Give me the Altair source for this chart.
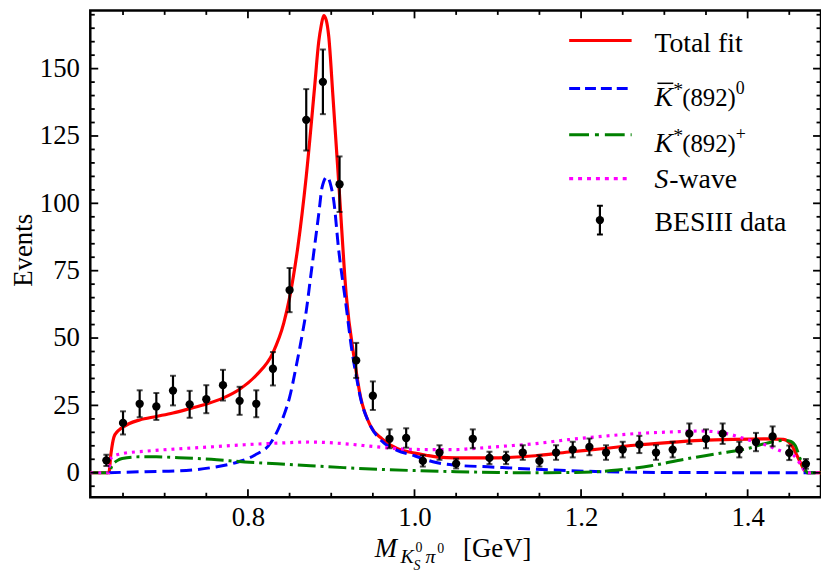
import altair as alt
import pandas as pd

# ---------------- data ----------------
bin_centers = [0.63, 0.65, 0.67, 0.69, 0.71, 0.73, 0.75, 0.77, 0.79, 0.81, 0.83, 0.85,
               0.87, 0.89, 0.91, 0.93, 0.95, 0.97, 0.99, 1.01, 1.03, 1.05, 1.07, 1.09,
               1.11, 1.13, 1.15, 1.17, 1.19, 1.21, 1.23, 1.25, 1.27, 1.29, 1.31, 1.33,
               1.35, 1.37, 1.39, 1.41, 1.43, 1.45, 1.47]
events = [4.6, 18.5, 25.6, 24.6, 30.5, 25.4, 27.3, 32.5, 26.7, 25.6, 38.6, 67.8,
          131.0, 145.1, 107.1, 41.7, 28.6, 12.6, 12.9, 4.4, 7.5, 3.4, 12.6, 5.5,
          5.5, 7.5, 4.4, 7.5, 8.6, 9.6, 7.5, 8.6, 10.5, 7.5, 8.6, 14.5,
          12.6, 14.5, 8.6, 11.4, 13.5, 7.4, 3.3]
errors = [2.1, 4.3, 5.0, 5.0, 5.5, 5.0, 5.2, 5.7, 5.2, 5.0, 6.2, 8.2,
          11.4, 12.0, 10.3, 6.5, 5.3, 3.5, 3.6, 2.1, 2.7, 1.8, 3.5, 2.3,
          2.3, 2.7, 2.1, 2.7, 2.9, 3.1, 2.7, 2.9, 3.2, 2.7, 2.9, 3.8,
          3.5, 3.8, 2.9, 3.4, 3.7, 2.7, 1.8]

fit_x = [0.6107, 0.633, 0.6355, 0.639, 0.643, 0.647, 0.657, 0.67, 0.69, 0.71, 0.73, 0.75,
         0.77, 0.79, 0.81, 0.83, 0.843, 0.85, 0.86, 0.87, 0.88, 0.885, 0.888, 0.891, 0.894,
         0.897, 0.902, 0.91, 0.918, 0.928, 0.935, 0.947, 0.961, 0.979, 1.0, 1.014, 1.026,
         1.05, 1.088, 1.145, 1.185, 1.225, 1.264, 1.304, 1.344, 1.383, 1.423, 1.443,
         1.4528, 1.461, 1.467, 1.471, 1.4881]
fit_y = [0, 0, 7, 13.2, 15.2, 16.3, 18.2, 19.6, 20.9, 22.2, 23.8, 25.5,
         27.7, 31.0, 36.2, 44.5, 55.5, 65, 84, 110, 143, 160, 166, 169.7, 168,
         162, 140, 103, 66, 41.7, 28.5, 17.5, 12.6, 9.0, 7.3, 6.5, 5.9,
         5.5, 5.5, 6.3, 7.7, 8.9, 10.2, 11.2, 12.0, 12.4, 12.6, 12.4,
         10.2, 5.3, 1.6, 0, 0]

kst0_x = [0.633, 0.677, 0.717, 0.756, 0.788, 0.808, 0.828, 0.843, 0.85, 0.858, 0.865, 0.87,
          0.875, 0.88, 0.885, 0.889, 0.895, 0.9, 0.903, 0.909, 0.917, 0.925, 0.93, 0.935,
          0.947, 0.96, 0.979, 1.0, 1.014, 1.026, 1.05, 1.088, 1.145, 1.225, 1.3, 1.4881]
kst0_y = [0, 0.4, 0.7, 1.9, 4.0, 6.5, 11.4, 21.2, 28, 39.6, 51, 60,
          72, 84, 96, 105.9, 109.8, 106, 101, 82.6, 64, 45, 36, 28,
          17.5, 12, 8.3, 6.3, 4.8, 3.8, 2.8, 2.2, 1.3, 0.4, 0.1, 0]

kstp_x = [0.6107, 0.633, 0.637, 0.643, 0.649, 0.669, 0.69, 0.717, 0.756, 0.796, 0.835, 0.875,
          0.915, 0.955, 1.0, 1.05, 1.1, 1.145, 1.193, 1.244, 1.284, 1.324, 1.364, 1.403,
          1.423, 1.443, 1.45, 1.457, 1.463, 1.469, 1.472, 1.4881]
kstp_y = [0, 0, 2.8, 4.5, 5.3, 5.9, 5.9, 5.6, 5.0, 4.0, 3.3, 2.6,
          1.9, 1.3, 0.8, 0.4, 0.1, 0, 0.1, 1.0, 2.6, 5.0, 7.1, 9.2,
          11.0, 12.0, 11.8, 10.2, 5.3, 1.2, 0, 0]

swave_x = [0.6107, 0.633, 0.634, 0.637, 0.649, 0.677, 0.717, 0.756, 0.796, 0.836, 0.875, 0.915,
           0.955, 0.994, 1.026, 1.05, 1.066, 1.105, 1.145, 1.185, 1.225, 1.264, 1.304, 1.344,
           1.375, 1.403, 1.423, 1.443, 1.455, 1.463, 1.471, 1.4881]
swave_y = [0, 0, 4, 5.9, 7.1, 8.0, 8.9, 9.6, 10.4, 11.0, 11.4, 10.8,
           9.6, 8.7, 8.6, 8.6, 8.9, 9.8, 10.8, 12.3, 13.5, 14.5, 15.1, 15.5,
           14.5, 12.0, 10.2, 7.7, 6.5, 3.4, 0, 0]

x_major = [0.8, 1.0, 1.2, 1.4]
x_minor = [0.65, 0.7, 0.75, 0.85, 0.9, 0.95, 1.05, 1.1, 1.15, 1.25, 1.3, 1.35, 1.45]
y_major = [0, 25, 50, 75, 100, 125, 150]
y_minor = [-5, 5, 10, 15, 20, 30, 35, 40, 45, 55, 60, 65, 70, 80, 85, 90, 95,
           105, 110, 115, 120, 130, 135, 140, 145, 155, 160, 165, 170]

# ---------------- layout ----------------
FONT = "Liberation Serif"
W, H = 737, 491
xs = alt.Scale(domain=[0.6107, 1.4881], nice=False, zero=False)
ys = alt.Scale(domain=[-9.09, 171.6], nice=False, zero=False)
xaxis = alt.Axis(values=x_major, format=".1f", title=None, labelPadding=8, ticks=False,
                 tickSize=0, domain=False, grid=False, labelFlush=False,
                 labelFont=FONT, labelFontSize=27, labelColor="black")
yaxis = alt.Axis(values=y_major, format="d", title=None, labelPadding=11, ticks=False,
                 tickSize=0, domain=False, grid=False, labelFlush=False,
                 labelFont=FONT, labelFontSize=27, labelColor="black")


def X(f="x"):
    return alt.X(f"{f}:Q", scale=xs, axis=xaxis)


def Y(f="y"):
    return alt.Y(f"{f}:Q", scale=ys, axis=yaxis)


def curve(xv, yv, color, width, dash=None):
    df = pd.DataFrame({"x": xv, "y": yv})
    kw = dict(color=color, strokeWidth=width, interpolate="monotone", clip=True)
    if dash is not None:
        kw["strokeDash"] = dash
    return alt.Chart(df).mark_line(**kw).encode(x=X(), y=Y())


layers = []
layers.append(curve(fit_x, fit_y, "#ff0000", 3.2))
layers.append(curve(kst0_x, kst0_y, "#0000ff", 3.0, [12, 6]))
layers.append(curve(kstp_x, kstp_y, "#008000", 3.0, [18, 5, 3, 5]))
layers.append(curve(swave_x, swave_y, "#ff00ff", 3.2, [3, 5]))

pts = pd.DataFrame({"x": bin_centers, "y": events, "err": errors})
pts["lo"] = pts["y"] - pts["err"]
pts["hi"] = pts["y"] + pts["err"]
layers.append(alt.Chart(pts).mark_rule(color="black", strokeWidth=2.2).encode(
    x=X(), y=Y("lo"), y2="hi"))
layers.append(alt.Chart(pts).mark_tick(color="black", orient="horizontal", size=6, thickness=2).encode(
    x=X(), y=Y("lo")))
layers.append(alt.Chart(pts).mark_tick(color="black", orient="horizontal", size=6, thickness=2).encode(
    x=X(), y=Y("hi")))
layers.append(alt.Chart(pts).mark_point(filled=True, color="black", size=70, opacity=1).encode(
    x=X(), y=Y()))

# ---------------- inward ticks on all four sides ----------------
dxM = pd.DataFrame({"x": x_major})
dxm = pd.DataFrame({"x": x_minor})
dyM = pd.DataFrame({"y": y_major})
dym = pd.DataFrame({"y": y_minor})
for dfx, ln in ((dxM, 8), (dxm, 4.5)):
    layers.append(alt.Chart(dfx).mark_rule(color="black", strokeWidth=1.8).encode(
        x=X(), y=alt.value(H), y2=alt.value(H - ln)))
    layers.append(alt.Chart(dfx).mark_rule(color="black", strokeWidth=1.8).encode(
        x=X(), y=alt.value(0), y2=alt.value(ln)))
for dfy, ln in ((dyM, 8), (dym, 4.5)):
    layers.append(alt.Chart(dfy).mark_rule(color="black", strokeWidth=1.8).encode(
        y=Y(), x=alt.value(0), x2=alt.value(ln)))
    layers.append(alt.Chart(dfy).mark_rule(color="black", strokeWidth=1.8).encode(
        y=Y(), x=alt.value(W), x2=alt.value(W - ln)))

# ---------------- text helpers ----------------
dummy = pd.DataFrame({"a": [0]})


def txt(s, x, y, size=28, style="normal", align="left", angle=0, baseline="alphabetic"):
    return alt.Chart(dummy).mark_text(text=s, font=FONT, fontSize=size, fontStyle=style,
                                      align=align, baseline=baseline, angle=angle,
                                      color="black").encode(x=alt.value(x), y=alt.value(y))


def hline(x1, x2, y, color, width, dash=None):
    kw = dict(color=color, strokeWidth=width)
    if dash is not None:
        kw["strokeDash"] = dash
    return alt.Chart(dummy).mark_rule(**kw).encode(x=alt.value(x1), x2=alt.value(x2), y=alt.value(y))


# ---------------- legend ----------------
LX1, LX2, TX = 483, 546, 569
layers.append(hline(LX1, LX2, 30.3, "#ff0000", 3.2))
layers.append(txt("Total fit", TX, 42))

layers.append(hline(LX1, LX2, 78.7, "#0000ff", 3.0, [11, 5]))
layers.append(txt("K", TX, 96, style="italic"))
layers.append(hline(TX + 3, TX + 19, 73.5, "black", 1.5))
layers.append(txt("*", TX + 19, 86, size=20))
layers.append(txt("(892)", TX + 28, 96, size=25))
layers.append(txt("0", TX + 82, 84, size=18))

layers.append(hline(LX1, LX2, 125.3, "#008000", 3.0, [20, 6, 4, 6]))
layers.append(txt("K", TX, 143, style="italic"))
layers.append(txt("*", TX + 19, 133, size=20))
layers.append(txt("(892)", TX + 28, 143, size=25))
layers.append(txt("+", TX + 82, 131, size=18))

layers.append(hline(LX1, LX2, 169.7, "#ff00ff", 3.2, [4, 5]))
layers.append(txt("S", TX, 179, style="italic"))
layers.append(txt("-wave", TX + 15, 179))

layers.append(alt.Chart(dummy).mark_rule(color="black", strokeWidth=2.2).encode(
    x=alt.value(514), y=alt.value(197), y2=alt.value(226)))
layers.append(hline(511, 517, 197, "black", 2))
layers.append(hline(511, 517, 226, "black", 2))
layers.append(alt.Chart(dummy).mark_point(filled=True, color="black", size=70, opacity=1).encode(
    x=alt.value(514), y=alt.value(211.5)))
layers.append(txt("BESIII data", TX, 222))

# ---------------- axis titles ----------------
layers.append(txt("Events", -67, 242, size=27, align="center", angle=270, baseline="middle"))
layers.append(txt("M", 287, 551, size=27, style="italic"))
layers.append(txt("K", 313, 557, size=20, style="italic"))
layers.append(txt("0", 328, 546, size=14))
layers.append(txt("S", 326, 564, size=14, style="italic"))
layers.append(txt("π", 338, 557, size=20, style="italic"))
layers.append(txt("0", 350, 547, size=14))
layers.append(txt("[GeV]", 376, 551, size=27))

chart = alt.layer(*layers).properties(
    width=W, height=H,
    padding={"left": 83, "top": 0, "right": 0, "bottom": 78},
    autosize=alt.AutoSizeParams(type="none"),
).configure_view(stroke="black", strokeWidth=2.5).configure_axis(
    grid=False, labelFont=FONT, labelFontSize=27, labelColor="black"
).configure_text(font=FONT)

chart.save("out.html", embed_options={"renderer": "svg", "actions": False})
